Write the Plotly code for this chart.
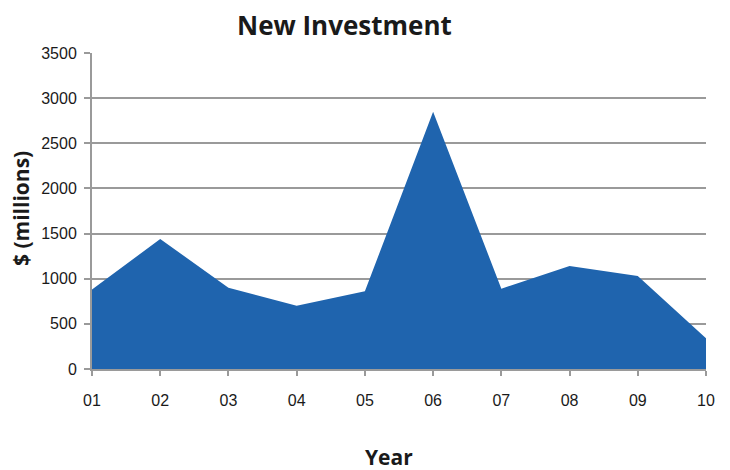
import plotly.graph_objects as go

years = ["01", "02", "03", "04", "05", "06", "07", "08", "09", "10"]
investment = [880, 1440, 900, 700, 860, 2850, 890, 1140, 1030, 340]
y_ticks = [0, 500, 1000, 1500, 2000, 2500, 3000, 3500]

x_pos = list(range(len(years)))

# page has an 8px body margin; size figure so it fits the 730x470 window
OFF = 8
W, H = 730 - OFF, 470 - OFF
ML, MR, MT, MB = 92 - OFF, 24, 53 - OFF, 101

fig = go.Figure()
fig.add_trace(go.Scatter(
    x=x_pos, y=investment, mode="lines", fill="tozeroy",
    fillcolor="#1f64ae", line=dict(color="#1f64ae", width=0),
    hoverinfo="x+y", showlegend=False,
))

tick_font = dict(family="Liberation Sans Narrow, Arial Narrow, Liberation Sans", size=16, color="#1a1a1a")

fig.update_layout(
    width=W, height=H,
    margin=dict(l=ML, r=MR, t=MT, b=MB, autoexpand=False),
    paper_bgcolor="white", plot_bgcolor="white",
    xaxis=dict(
        range=[0, 9], tickvals=x_pos, ticktext=years,
        showgrid=False, zeroline=False,
        showline=True, linecolor="#9a9a9a", linewidth=2,
        ticks="outside", ticklen=5, tickcolor="#9a9a9a", tickwidth=1.5,
        tickfont=tick_font, ticklabelstandoff=11,
    ),
    yaxis=dict(
        range=[0, 3500], tickvals=y_ticks,
        showgrid=True, gridcolor="#9a9a9a", gridwidth=2,
        zeroline=False,
        showline=True, linecolor="#9a9a9a", linewidth=2,
        ticks="outside", ticklen=6, tickcolor="#9a9a9a", tickwidth=1.5,
        tickfont=tick_font, ticklabelstandoff=4,
    ),
)

pw = W - ML - MR
ph = H - MT - MB
def px_x(px):
    return (px - OFF - ML) / pw
def px_y(py):
    return (H - MB - (py - OFF)) / ph

common = dict(xref="paper", yref="paper", showarrow=False, xanchor="center", yanchor="middle", borderpad=0)
fig.add_annotation(text="<b>New Investment</b>", x=px_x(344), y=px_y(25),
                   font=dict(family="Open Sans", size=26, color="#1a1a1a"), **common)
fig.add_annotation(text="<b>Year</b>", x=px_x(389), y=px_y(457),
                   font=dict(family="Open Sans", size=21, color="#1a1a1a"), **common)
fig.add_annotation(text="<b>$ (millions)</b>", x=px_x(21), y=px_y(209), textangle=-90,
                   font=dict(family="Open Sans", size=21, color="#1a1a1a"), **common)

fig.write_html("out.html")
